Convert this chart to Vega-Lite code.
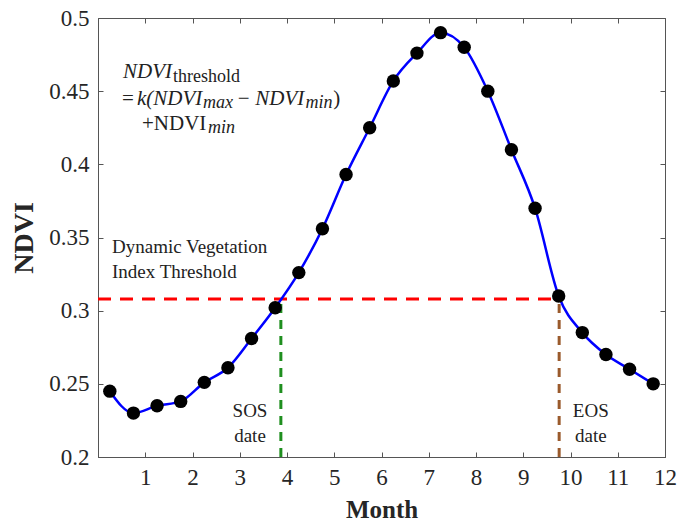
{
  "$schema": "https://vega.github.io/schema/vega-lite/v6.json",
  "width": 567,
  "height": 439,
  "autosize": "none",
  "padding": {"left": 98, "top": 18, "right": 12, "bottom": 68},
  "background": "white",
  "config": {
    "view": {"stroke": "#555555", "strokeWidth": 1},
    "font": "Liberation Serif",
    "axis": {
      "labelFont": "Liberation Serif",
      "titleFont": "Liberation Serif",
      "labelFontSize": 23,
      "labelColor": "#262626",
      "titleColor": "#262626",
      "domainColor": "#555555",
      "tickColor": "#555555",
      "grid": false,
      "tickSize": -5,
      "titleFontWeight": "bold"
    }
  },
  "datasets": {
    "ndvi": [
      {"month": 0.25, "ndvi": 0.245},
      {"month": 0.75, "ndvi": 0.230},
      {"month": 1.25, "ndvi": 0.235},
      {"month": 1.75, "ndvi": 0.238},
      {"month": 2.25, "ndvi": 0.251},
      {"month": 2.75, "ndvi": 0.261},
      {"month": 3.25, "ndvi": 0.281},
      {"month": 3.75, "ndvi": 0.302},
      {"month": 4.25, "ndvi": 0.326},
      {"month": 4.75, "ndvi": 0.356},
      {"month": 5.25, "ndvi": 0.393},
      {"month": 5.75, "ndvi": 0.425},
      {"month": 6.25, "ndvi": 0.457},
      {"month": 6.75, "ndvi": 0.476},
      {"month": 7.25, "ndvi": 0.490},
      {"month": 7.75, "ndvi": 0.480},
      {"month": 8.25, "ndvi": 0.450},
      {"month": 8.75, "ndvi": 0.410},
      {"month": 9.25, "ndvi": 0.370},
      {"month": 9.75, "ndvi": 0.310},
      {"month": 10.25, "ndvi": 0.285},
      {"month": 10.75, "ndvi": 0.270},
      {"month": 11.25, "ndvi": 0.260},
      {"month": 11.75, "ndvi": 0.250}
    ]
  },
  "layer": [
    {
      "data": {"values": [{"x": 0, "x2": 9.76, "y": 0.308}]},
      "mark": {"type": "rule", "color": "#ff0000", "strokeWidth": 3, "strokeDash": [13, 9]},
      "encoding": {
        "x": {"field": "x", "type": "quantitative", "scale": {"domain": [0, 12]},
          "axis": {"values": [1,2,3,4,5,6,7,8,9,10,11,12], "title": "Month", "titleFontSize": 25, "labelPadding": 14, "titlePadding": 8, "labelFlush": false}},
        "x2": {"field": "x2"},
        "y": {"field": "y", "type": "quantitative", "scale": {"domain": [0.2, 0.5]},
          "axis": {"values": [0.2,0.25,0.3,0.35,0.4,0.45,0.5], "format": "~g", "title": "NDVI", "titleFontSize": 28, "labelPadding": 14, "titlePadding": 10, "labelFlush": false}}
      }
    },
    {
      "data": {"values": [{"x": 3.87, "y": 0.2, "y2": 0.308}]},
      "mark": {"type": "rule", "color": "#1f8f1f", "strokeWidth": 3, "strokeDash": [9, 7]},
      "encoding": {
        "x": {"field": "x", "type": "quantitative", "axis": null},
        "y": {"field": "y", "type": "quantitative", "axis": null},
        "y2": {"field": "y2"}
      }
    },
    {
      "data": {"values": [{"x": 9.76, "y": 0.2, "y2": 0.308}]},
      "mark": {"type": "rule", "color": "#9a5a2c", "strokeWidth": 3, "strokeDash": [9, 7]},
      "encoding": {
        "x": {"field": "x", "type": "quantitative", "axis": null},
        "y": {"field": "y", "type": "quantitative", "axis": null},
        "y2": {"field": "y2"}
      }
    },
    {
      "data": {"name": "ndvi"},
      "mark": {"type": "line", "color": "#0000ff", "strokeWidth": 2.5, "interpolate": "monotone"},
      "encoding": {
        "x": {"field": "month", "type": "quantitative", "axis": null},
        "y": {"field": "ndvi", "type": "quantitative", "axis": null}
      }
    },
    {
      "data": {"name": "ndvi"},
      "mark": {"type": "point", "filled": true, "color": "#000000", "opacity": 1, "size": 180},
      "encoding": {
        "x": {"field": "month", "type": "quantitative",
          "axis": {"orient": "top", "labels": false, "title": null, "domain": false, "values": [1,2,3,4,5,6,7,8,9,10,11,12]}},
        "y": {"field": "ndvi", "type": "quantitative",
          "axis": {"orient": "right", "labels": false, "title": null, "domain": false, "values": [0.2,0.25,0.3,0.35,0.4,0.45,0.5]}}
      }
    },
    {
      "data": {"values": [
        {"t": "Dynamic Vegetation", "x": 0.296, "y": 0.3394},
        {"t": "Index Threshold", "x": 0.296, "y": 0.3223}
      ]},
      "mark": {"type": "text", "align": "left", "baseline": "alphabetic", "fontSize": 19, "font": "Liberation Serif", "color": "#222222"},
      "encoding": {
        "x": {"field": "x", "type": "quantitative", "axis": null},
        "y": {"field": "y", "type": "quantitative", "axis": null},
        "text": {"field": "t"}
      }
    },
    {
      "data": {"values": [
        {"t": "SOS", "x": 3.217, "y": 0.2273},
        {"t": "date", "x": 3.217, "y": 0.2102},
        {"t": "EOS", "x": 10.43, "y": 0.2273},
        {"t": "date", "x": 10.43, "y": 0.2102}
      ]},
      "mark": {"type": "text", "align": "center", "baseline": "alphabetic", "fontSize": 19, "font": "Liberation Serif", "color": "#222222"},
      "encoding": {
        "x": {"field": "x", "type": "quantitative", "axis": null},
        "y": {"field": "y", "type": "quantitative", "axis": null},
        "text": {"field": "t"}
      }
    },
    {
      "data": {"values": [
        {"t": "NDVI", "x": 0.529, "y": 0.459},
        {"t": "k(NDVI", "x": 0.825, "y": 0.4405},
        {"t": "NDVI", "x": 3.33, "y": 0.4405}
      ]},
      "mark": {"type": "text", "align": "left", "baseline": "alphabetic", "fontSize": 21, "fontStyle": "italic", "font": "Liberation Serif", "color": "#222222"},
      "encoding": {
        "x": {"field": "x", "type": "quantitative", "axis": null},
        "y": {"field": "y", "type": "quantitative", "axis": null},
        "text": {"field": "t"}
      }
    },
    {
      "data": {"values": [
        {"t": "=", "x": 0.508, "y": 0.4405},
        {"t": "−", "x": 2.96, "y": 0.4405},
        {"t": ")", "x": 4.98, "y": 0.4405},
        {"t": "+NDVI", "x": 0.931, "y": 0.4235}
      ]},
      "mark": {"type": "text", "align": "left", "baseline": "alphabetic", "fontSize": 21, "font": "Liberation Serif", "color": "#222222"},
      "encoding": {
        "x": {"field": "x", "type": "quantitative", "axis": null},
        "y": {"field": "y", "type": "quantitative", "axis": null},
        "text": {"field": "t"}
      }
    },
    {
      "data": {"values": [
        {"t": "max", "x": 2.22, "y": 0.4385},
        {"t": "min", "x": 4.39, "y": 0.4385},
        {"t": "min", "x": 2.33, "y": 0.4214}
      ]},
      "mark": {"type": "text", "align": "left", "baseline": "alphabetic", "fontSize": 18, "fontStyle": "italic", "font": "Liberation Serif", "color": "#222222"},
      "encoding": {
        "x": {"field": "x", "type": "quantitative", "axis": null},
        "y": {"field": "y", "type": "quantitative", "axis": null},
        "text": {"field": "t"}
      }
    },
    {
      "data": {"values": [
        {"t": "threshold", "x": 1.587, "y": 0.4563}
      ]},
      "mark": {"type": "text", "align": "left", "baseline": "alphabetic", "fontSize": 18, "font": "Liberation Serif", "color": "#222222"},
      "encoding": {
        "x": {"field": "x", "type": "quantitative", "axis": null},
        "y": {"field": "y", "type": "quantitative", "axis": null},
        "text": {"field": "t"}
      }
    }
  ],
  "resolve": {"axis": {"x": "independent", "y": "independent"}}
}
